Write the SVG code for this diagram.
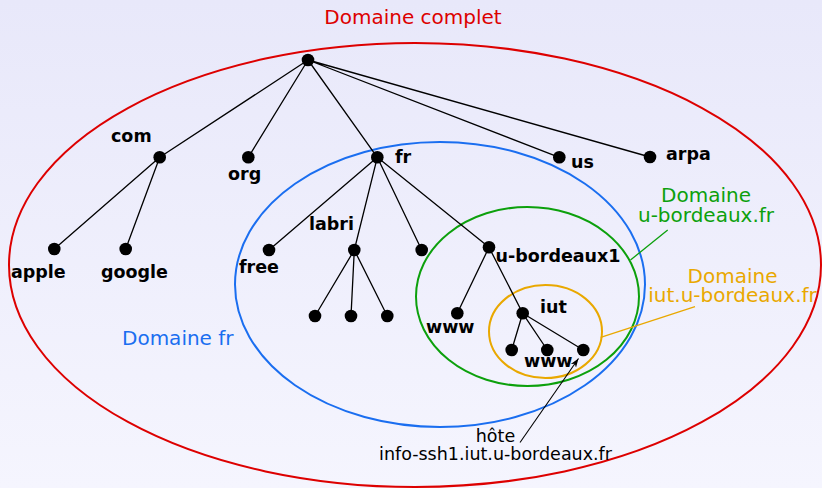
<svg xmlns="http://www.w3.org/2000/svg" width="822" height="488" viewBox="0 0 822 488">
<defs>
<linearGradient id="bg" x1="0" y1="0" x2="0" y2="1">
<stop offset="0" stop-color="#e8e8fa"/>
<stop offset="1" stop-color="#f5f5fe"/>
</linearGradient>
<marker id="arr" viewBox="0 0 10 10" refX="10" refY="5" markerWidth="9" markerHeight="9" markerUnits="userSpaceOnUse" orient="auto">
<path d="M0,1.5 L10,5 L0,8.5 L3,5 Z" fill="#000"/>
</marker>
<style>
.e{stroke:#000;stroke-width:1.3;fill:none}
.n{fill:#000}
.l{font-family:"DejaVu Sans",Verdana,sans-serif;font-weight:bold;font-size:17.5px;fill:#000}
.d{font-family:"DejaVu Sans",Verdana,sans-serif;font-size:20px}
.h{font-family:"DejaVu Sans",Verdana,sans-serif;font-size:17.5px;fill:#000;text-anchor:middle}
.z{fill:none;stroke-width:2}
</style>
</defs>
<rect width="822" height="488" fill="url(#bg)"/>

<g id="domains">
<ellipse id="dom-complet" class="z" cx="415" cy="265" rx="406" ry="222" stroke="#dd0000"/>
<ellipse id="dom-fr" class="z" cx="440" cy="284.5" rx="205" ry="142.5" stroke="#1a6ef0"/>
<ellipse id="dom-ub" class="z" cx="527.5" cy="296.5" rx="111.5" ry="89.5" stroke="#0ca00c"/>
<ellipse id="dom-iut" class="z" cx="545.5" cy="331.5" rx="56.5" ry="46.5" stroke="#e9a800"/>
</g>

<g id="connectors">
<path class="e" d="M308,60 L159.7,157.3 M308,60 L248.3,157.3 M308,60 L377.3,157.3 M308,60 L559.3,157.3 M308,60 L650,157"/>
<path class="e" d="M159.7,157.3 L54.3,249 M159.7,157.3 L125.7,249"/>
<path class="e" d="M377.3,157.3 L269,250 M377.3,157.3 L354.3,250 M377.3,157.3 L421.7,250 M377.3,157.3 L489,247.3"/>
<path class="e" d="M354.3,250 L315,316 M354.3,250 L351,316 M354.3,250 L387.3,316"/>
<path class="e" d="M489,247.3 L457.3,313.3 M489,247.3 L522.7,313.3"/>
<path class="e" d="M522.7,313.3 L511.7,350 M522.7,313.3 L547.3,350 M522.7,313.3 L583.3,350"/>
<line x1="630.5" y1="260" x2="667.7" y2="230" stroke="#0ca00c" stroke-width="1.3"/>
<line x1="600.7" y1="337.3" x2="695" y2="306.7" stroke="#e9a800" stroke-width="1.3"/>
<line x1="520" y1="442.5" x2="578.5" y2="358.5" stroke="#000" stroke-width="1.1" marker-end="url(#arr)"/>
</g>

<g id="root"><circle class="n" cx="308" cy="60" r="6.3"/></g>
<g id="com"><circle class="n" cx="159.7" cy="157.3" r="6.3"/><text class="l" x="111" y="141.5">com</text></g>
<g id="org"><circle class="n" cx="248.3" cy="157.3" r="6.3"/><text class="l" x="228" y="180">org</text></g>
<g id="fr"><circle class="n" cx="377.3" cy="157.3" r="6.3"/><text class="l" x="395" y="163">fr</text></g>
<g id="us"><circle class="n" cx="559.3" cy="157.3" r="6.3"/><text class="l" x="571" y="168">us</text></g>
<g id="arpa"><circle class="n" cx="650" cy="157" r="6.3"/><text class="l" x="666" y="160">arpa</text></g>
<g id="apple"><circle class="n" cx="54.3" cy="249" r="6.3"/><text class="l" x="11" y="278">apple</text></g>
<g id="google"><circle class="n" cx="125.7" cy="249" r="6.3"/><text class="l" x="101" y="278">google</text></g>
<g id="free"><circle class="n" cx="269" cy="250" r="6.3"/><text class="l" x="239" y="273">free</text></g>
<g id="labri"><circle class="n" cx="354.3" cy="250" r="6.3"/><text class="l" x="309" y="230">labri</text></g>
<g id="fr-3"><circle class="n" cx="421.7" cy="250" r="6.3"/></g>
<g id="u-bordeaux1"><circle class="n" cx="489" cy="247.3" r="6.3"/><text class="l" x="495.5" y="261.5">u-bordeaux1</text></g>
<g id="labri-1"><circle class="n" cx="315" cy="316" r="6.3"/></g>
<g id="labri-2"><circle class="n" cx="351" cy="316" r="6.3"/></g>
<g id="labri-3"><circle class="n" cx="387.3" cy="316" r="6.3"/></g>
<g id="www-ub"><circle class="n" cx="457.3" cy="313.3" r="6.3"/><text class="l" x="426" y="333">www</text></g>
<g id="iut"><circle class="n" cx="522.7" cy="313.3" r="6.3"/><text class="l" x="540" y="312.5">iut</text></g>
<g id="iut-1"><circle class="n" cx="511.7" cy="350" r="6.3"/></g>
<g id="www-iut"><circle class="n" cx="547.3" cy="350" r="6.3"/><text class="l" x="524" y="367">www</text></g>
<g id="host"><circle class="n" cx="583.3" cy="350" r="6.3"/></g>

<g id="labels">
<text class="d" x="413" y="24" text-anchor="middle" fill="#dd0000">Domaine complet</text>
<text class="d" x="122" y="345" fill="#1a6ef0">Domaine fr</text>
<text class="d" x="706" y="202" text-anchor="middle" fill="#0ca00c">Domaine</text>
<text class="d" x="706" y="222" text-anchor="middle" fill="#0ca00c">u-bordeaux.fr</text>
<text class="d" x="732.5" y="283" text-anchor="middle" fill="#e9a800">Domaine</text>
<text class="d" x="732.5" y="302" text-anchor="middle" fill="#e9a800">iut.u-bordeaux.fr</text>
<text class="h" x="495.5" y="442">hôte</text>
<text class="h" x="495.5" y="459.5">info-ssh1.iut.u-bordeaux.fr</text>
</g>
</svg>
